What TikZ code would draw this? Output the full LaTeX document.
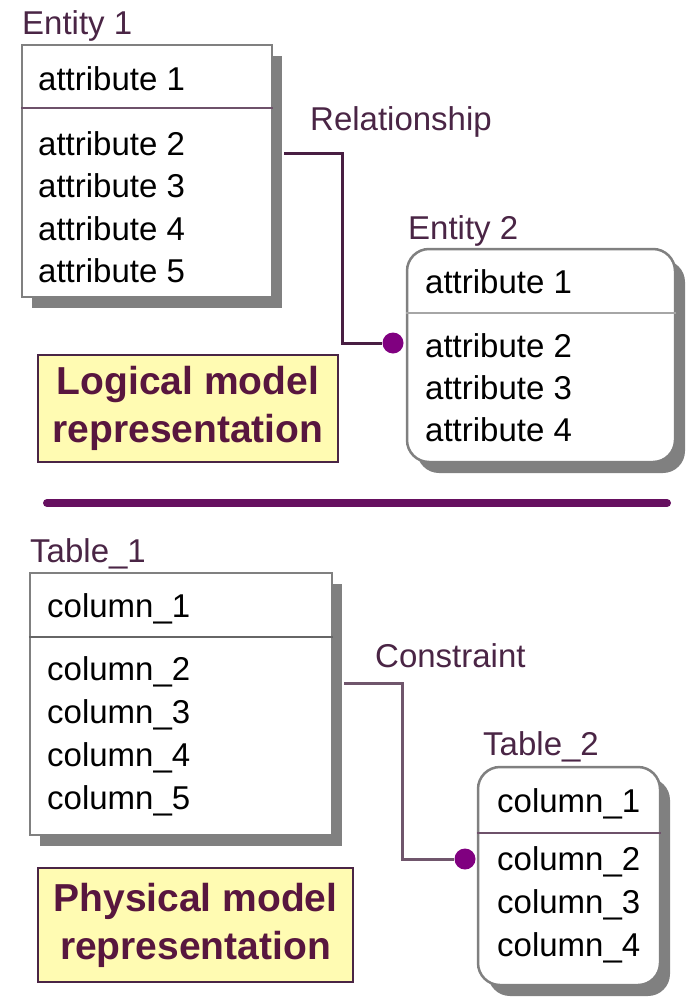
\documentclass[tikz,border=0pt]{standalone}
\usepackage{fontspec}
\setmainfont{Liberation Sans}
\usetikzlibrary{positioning,shadows}
\definecolor{darkplum}{RGB}{74,37,69}
\definecolor{linkplum}{RGB}{72,30,66}
\definecolor{linkgrey}{RGB}{112,86,108}
\definecolor{jointplum}{RGB}{128,0,128}
\definecolor{rulepurple}{RGB}{102,16,96}
\definecolor{notefill}{RGB}{255,251,178}
\definecolor{notetext}{RGB}{88,22,62}
\definecolor{framegrey}{RGB}{128,128,128}

\begin{document}
\begin{tikzpicture}[
    x=1pt, y=-1pt,
    entity/.style={
        draw=framegrey,
        line width=2.5pt,
        fill=white,
        inner sep=0pt,
        drop shadow={shadow xshift=10pt, shadow yshift=-11pt,
                     fill=black!50, opacity=1}
    },
    roundentity/.style={entity, rounded corners=22pt},
    divider/.style={line width=2.5pt, draw=darkplum!80},
    attr/.style={
        anchor=base west,
        inner sep=0pt,
        font=\fontsize{33}{40}\selectfont
    },
    tag/.style={attr, text=darkplum},
    note/.style={
        draw=darkplum,
        line width=2.5pt,
        fill=notefill,
        text=notetext,
        align=center,
        inner sep=0pt,
        font=\fontsize{39}{48}\selectfont\bfseries
    },
    rel/.style={line width=3pt, draw=linkplum},
    joint/.style={circle, fill=jointplum, inner sep=0pt, minimum size=21pt},
    sepline/.style={line width=8pt, draw=rulepurple, line cap=round}
]
\useasboundingbox (0,0) rectangle (692,998);

% LOGICAL MODEL
\node[entity, minimum width=250pt, minimum height=252pt] (e1) at (147,171) {};
\draw[divider] (e1.west |- 0,108) -- (e1.east |- 0,108);
\node[tag] (e1name) at (22,35) {Entity 1};
\node[attr] (e1a1) at (38,90)  {attribute 1};
\node[attr] (e1a2) at (38,155) {attribute 2};
\node[attr] (e1a3) at (38,197) {attribute 3};
\node[attr] (e1a4) at (38,240) {attribute 4};
\node[attr] (e1a5) at (38,282) {attribute 5};

\node[roundentity, minimum width=268pt, minimum height=213pt] (e2) at (541,355.5) {};
\draw[divider, draw=framegrey!70] (e2.west |- 0,313) -- (e2.east |- 0,313);
\node[tag] (e2name) at (408,239) {Entity 2};
\node[attr] (e2a1) at (425,293) {attribute 1};
\node[attr] (e2a2) at (425,357) {attribute 2};
\node[attr] (e2a3) at (425,399) {attribute 3};
\node[attr] (e2a4) at (425,441) {attribute 4};

\node[tag] (relname) at (310,130) {Relationship};
\node[joint] (j1) at (393,343) {};
\draw[rel] ([xshift=11pt]e1.east |- 0,153) -| (342,343) -- (j1);

\node[note, minimum width=300pt, minimum height=107pt] (logic) at (188,408.5)
{Logical model\\representation};

% SEPARATOR
\coordinate (sepl) at (47,503);
\coordinate (sepr) at (667,503);
\draw[sepline] (sepl) -- (sepr);

% PHYSICAL MODEL
\node[entity, minimum width=302pt, minimum height=262pt] (t1) at (181,704) {};
\draw[divider, draw=black!60] (t1.west |- 0,637) -- (t1.east |- 0,637);
\node[tag] (t1name) at (30,562) {Table\_1};
\node[attr] (t1c1) at (47,617) {column\_1};
\node[attr] (t1c2) at (47,680) {column\_2};
\node[attr] (t1c3) at (47,723) {column\_3};
\node[attr] (t1c4) at (47,766) {column\_4};
\node[attr] (t1c5) at (47,809) {column\_5};

\node[roundentity, minimum width=182pt, minimum height=218pt] (t2) at (569,876) {};
\draw[divider] (t2.west |- 0,833) -- (t2.east |- 0,833);
\node[tag] (t2name) at (483,755) {Table\_2};
\node[attr] (t2c1) at (497,812) {column\_1};
\node[attr] (t2c2) at (497,870) {column\_2};
\node[attr] (t2c3) at (497,913) {column\_3};
\node[attr] (t2c4) at (497,956) {column\_4};

\node[tag] (conname) at (375,667) {Constraint};
\node[joint] (j2) at (465,859) {};
\draw[rel, draw=linkgrey] ([xshift=11pt]t1.east |- 0,683) -| (402,859) -- (j2);

\node[note, minimum width=315pt, minimum height=114pt] (phys) at (195.5,925)
{Physical model\\representation};

\end{tikzpicture}
\end{document}
